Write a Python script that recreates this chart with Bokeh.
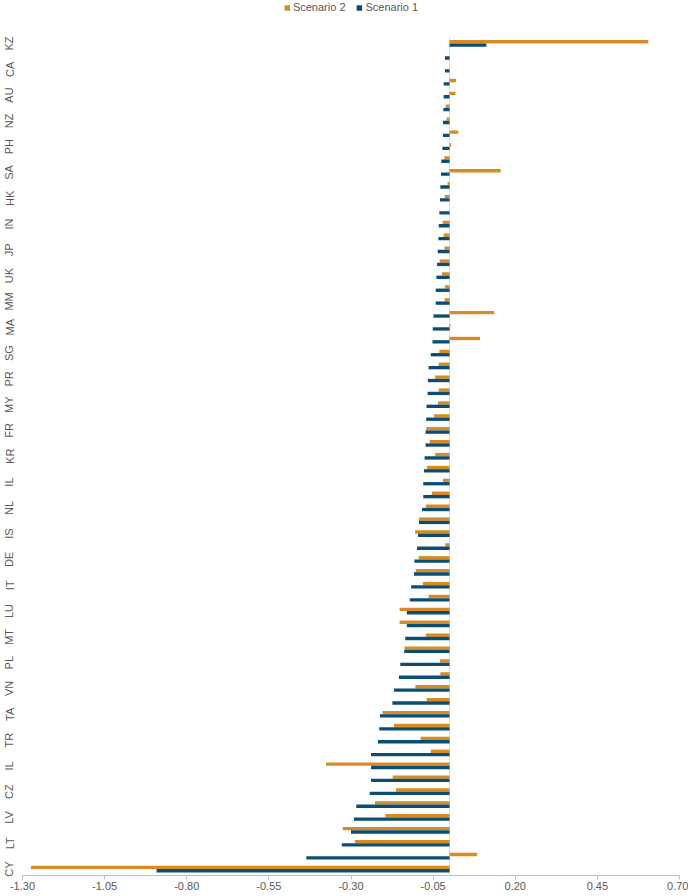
from bokeh.plotting import figure
from bokeh.models import (ColumnDataSource, Legend, LegendItem, FixedTicker,
                          NumeralTickFormatter, Range1d)
from bokeh.transform import dodge
from bokeh.embed import file_html
from bokeh.resources import INLINE

# Category labels shown on the axis (every other category, bottom to top)
labels = ["CY", "LT", "LV", "CZ", "IL", "TR", "TA", "VN", "PL", "MT", "LU",
          "IT", "DE", "IS", "NL", "IL", "KR", "FR", "MY", "PR", "SG", "MA",
          "MM", "UK", "JP", "IN", "HK", "SA", "PH", "NZ", "AU", "CA", "KZ"]

# Values for all 65 categories, bottom (CY) to top (KZ)
scenario_2 = [-1.274, 0.084, -0.288, -0.325, -0.195, -0.227, -0.163, -0.173,
              -0.376, -0.057, -0.088, -0.169, -0.204, -0.070, -0.104, -0.028,
              -0.029, -0.137, -0.072, -0.152, -0.152, -0.064, -0.081, -0.103,
              -0.094, -0.013, -0.105, -0.093, -0.072, -0.054, -0.020, -0.069,
              -0.044, -0.060, -0.071, -0.047, -0.035, -0.033, -0.044, -0.033,
              -0.031, 0.093, 0.003, 0.136, -0.015, -0.014, -0.023, -0.030,
              -0.015, -0.018, -0.021, 0.0, -0.015, -0.006, 0.156, -0.016,
              0.005, 0.027, -0.009, -0.012, 0.018, 0.020, 0.0, 0.0, 0.605]

scenario_1 = [-0.892, -0.436, -0.328, -0.300, -0.291, -0.284, -0.243, -0.239,
              -0.239, -0.239, -0.218, -0.214, -0.212, -0.174, -0.169, -0.154,
              -0.150, -0.138, -0.135, -0.130, -0.130, -0.121, -0.117, -0.108,
              -0.107, -0.099, -0.096, -0.093, -0.084, -0.080, -0.080, -0.078,
              -0.076, -0.073, -0.073, -0.071, -0.070, -0.067, -0.066, -0.064,
              -0.057, -0.052, -0.051, -0.049, -0.042, -0.042, -0.040, -0.038,
              -0.036, -0.034, -0.033, -0.031, -0.029, -0.028, -0.026, -0.025,
              -0.022, -0.020, -0.020, -0.019, -0.018, -0.018, -0.014, -0.014,
              0.112]

x_ticks = [-1.30, -1.05, -0.80, -0.55, -0.30, -0.05, 0.20, 0.45, 0.70]

ORANGE = "#D98A22"
BLUE = "#0A4E73"
FONT = "Liberation Sans"
TXT = "#595959"

n = len(scenario_1)
pos = list(range(1, n + 1))
src = ColumnDataSource(dict(pos=pos, s1=scenario_1, s2=scenario_2))

FRAME_H = 875
CAT_PX = 12.9
top_pad = FRAME_H / CAT_PX - n  # extra room above the top category for the legend

p = figure(frame_width=657, frame_height=FRAME_H, output_backend="svg",
           toolbar_location=None,
           x_range=Range1d(x_ticks[0], x_ticks[-1]),
           y_range=Range1d(0.5, n + 0.5 + top_pad),
           min_border_left=19, min_border_right=9, min_border_top=0,
           min_border_bottom=0)
p.outline_line_color = None
p.xgrid.visible = False
p.ygrid.visible = False

# category axis line at zero
p.segment(x0=0, y0=0.5, x1=0, y1=n + 0.5, line_color="#D9D9D9", line_width=1)

r2 = p.hbar(y=dodge("pos", 0.13), right="s2", left=0, height=0.26, source=src,
            fill_color=ORANGE, line_color=None)
r1 = p.hbar(y=dodge("pos", -0.13), right="s1", left=0, height=0.26, source=src,
            fill_color=BLUE, line_color=None)

legend = Legend(items=[LegendItem(label="Scenario 2", renderers=[r2]),
                       LegendItem(label="Scenario 1", renderers=[r1])],
                orientation="horizontal", location="top_center",
                label_text_font=FONT, label_text_font_size="11px",
                label_text_color=TXT, glyph_width=7, glyph_height=7,
                label_standoff=3, spacing=10, padding=0, margin=1,
                border_line_color=None, background_fill_alpha=0,
                label_height=12)
p.add_layout(legend)

p.xaxis.ticker = FixedTicker(ticks=x_ticks)
p.xaxis.formatter = NumeralTickFormatter(format="0.00")
p.xaxis.axis_line_color = "#BFBFBF"
p.xaxis.major_tick_line_color = "#BFBFBF"
p.xaxis.major_tick_out = 4
p.xaxis.major_tick_in = 0
p.xaxis.minor_tick_line_color = None
p.xaxis.major_label_text_font = FONT
p.xaxis.major_label_text_font_size = "11px"
p.xaxis.major_label_text_color = TXT
p.xaxis.major_label_standoff = 2

p.yaxis.ticker = FixedTicker(ticks=pos[::2])
p.yaxis.major_label_overrides = {t: lab for t, lab in zip(pos[::2], labels)}
p.yaxis.major_label_orientation = "vertical"
p.yaxis.axis_line_color = None
p.yaxis.major_tick_line_color = None
p.yaxis.minor_tick_line_color = None
p.yaxis.major_tick_out = 0
p.yaxis.major_tick_in = 0
p.yaxis.major_label_text_font = FONT
p.yaxis.major_label_text_font_size = "11px"
p.yaxis.major_label_text_color = TXT
p.yaxis.major_label_standoff = 7

open("out.html", "w").write(file_html(p, INLINE))
